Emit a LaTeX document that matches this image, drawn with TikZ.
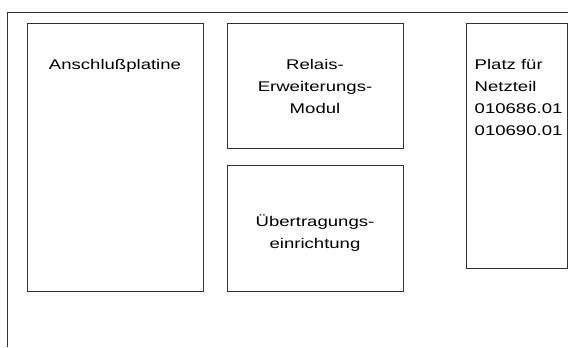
\documentclass[tikz,border=0pt]{standalone}
\usepackage{fontspec}
\setmainfont[FakeStretch=1.32]{Liberation Sans}
\begin{document}
\begin{tikzpicture}[box/.style={draw=black!80, line width=0.7pt},
  txt/.style={inner sep=0pt, font=\fontsize{10}{15.44}\selectfont}]
\useasboundingbox (0,0) rectangle (14.2,8.675);
% Gehaeuse (rechts und unten abgeschnitten)
\draw[box] (14.2,8.375) -- (0.175,8.375) -- (0.175,0);

\draw[box] (0.675,1.4) rectangle (5.075,8.1);
\draw[box] (5.675,4.975) rectangle (10.075,8.1);
\draw[box] (5.675,1.4) rectangle (10.075,4.55);
\draw[box] (11.65,1.975) rectangle (14.175,8.1);

% base = Grundlinie der letzten Zeile
\node[txt, anchor=base] (platine) at (2.875,6.93) {Anschlußplatine};
\node[txt, anchor=base, align=center] (relais) at (7.875,5.84) {Relais-\\Erweiterungs-\\Modul};
\node[txt, anchor=base, align=center] (uebertr) at (7.875,2.465) {Übertragungs-\\einrichtung};
\node[txt, anchor=base west, align=left] (netzteil) at (11.86,5.3) {Platz für\\Netzteil\\010686.01\\010690.01};
\end{tikzpicture}
\end{document}
